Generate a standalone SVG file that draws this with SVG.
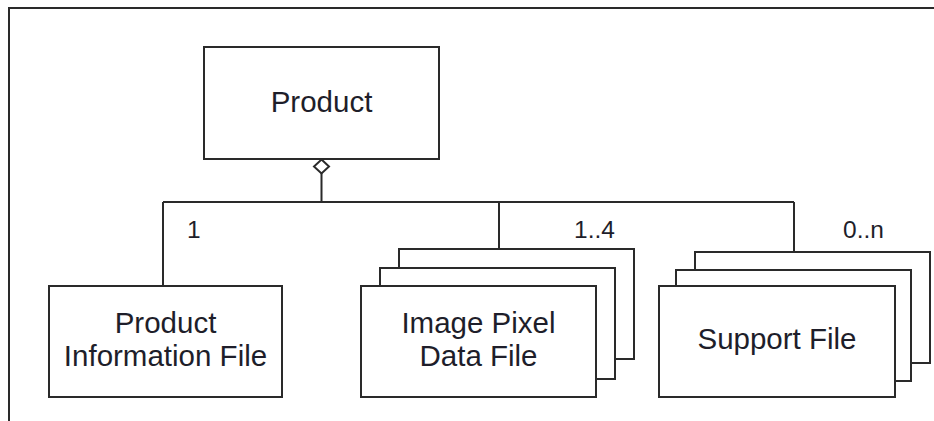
<svg xmlns="http://www.w3.org/2000/svg" width="934" height="421" viewBox="0 0 934 421">
<style>
.box{fill:#fff;stroke:#2a2a2a;stroke-width:2}
.ln{fill:none;stroke:#2a2a2a;stroke-width:2}
.t{font-family:"Liberation Sans",Arial,sans-serif;font-size:29.5px;fill:#1e1e2a;text-anchor:middle}
.m{font-family:"Liberation Sans",Arial,sans-serif;font-size:24.5px;fill:#1e1e2a}
</style>
<rect width="934" height="421" fill="#fff"/>
<path class="ln" d="M9,421 V8 H934"/>
<g id="connectors">
<path class="ln" d="M321.5,173 V202 M163,202 H794 M163,202 V286 M499,202 V268 M794,202 V270"/>
<polygon points="321.5,159.5 329,166.5 321.5,173.5 314,166.5" fill="#fff" stroke="#2a2a2a" stroke-width="2"/>
<text class="m" x="187" y="238">1</text>
<text class="m" x="574" y="238">1..4</text>
<text class="m" x="843" y="238">0..n</text>
</g>
<g id="product">
<rect class="box" x="204" y="47" width="235" height="112"/>
<text class="t" x="321.5" y="112">Product</text>
</g>
<g id="product-information-file">
<rect class="box" x="49" y="286" width="233" height="111"/>
<text class="t" x="165.5" y="333">Product</text>
<text class="t" x="165.5" y="366">Information File</text>
</g>
<g id="image-pixel-data-file">
<rect class="box" x="399" y="249" width="235" height="110"/>
<rect class="box" x="380" y="268" width="235" height="111"/>
<rect class="box" x="361" y="286" width="235" height="111"/>
<text class="t" x="478.5" y="333">Image Pixel</text>
<text class="t" x="478.5" y="366">Data File</text>
</g>
<g id="support-file">
<rect class="box" x="695" y="252" width="235" height="111"/>
<rect class="box" x="676" y="270" width="235" height="111"/>
<rect class="box" x="659" y="286" width="236" height="111"/>
<text class="t" x="777" y="349">Support File</text>
</g>
</svg>
